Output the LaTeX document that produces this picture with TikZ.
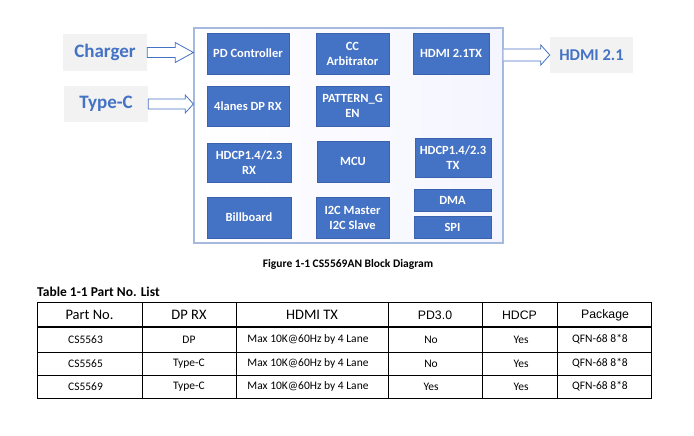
\documentclass[tikz,border=0pt]{standalone}
\usepackage{fontspec}
\setmainfont{Carlito}
\newfontfamily\arialfont{Liberation Sans}
\usetikzlibrary{positioning,calc}
\definecolor{blkblue}{HTML}{4472C4}
\definecolor{blkedge}{HTML}{3A62AE}
\definecolor{chipedge}{HTML}{A6B9DE}
\definecolor{lblgray}{HTML}{F2F2F2}
\tikzset{
  blk/.style={fill=blkblue, draw=blkedge, thin, text=white, font=\fontsize{12.5}{15}\selectfont\bfseries,
    align=center, inner sep=0pt},
  lbl/.style={fill=lblgray, text=blkblue, font=\fontsize{19}{21}\selectfont\bfseries, inner sep=0pt},
  barrow/.style={draw=blkblue, fill=white, line width=0.8pt, line join=miter},
  cell/.style={font=\fontsize{11.5}{13}\selectfont, inner sep=0pt},
  headcell/.style={font=\fontsize{14.5}{16}\selectfont, inner sep=0pt},
  arialcell/.style={font=\fontsize{12.3}{15}\selectfont\arialfont, inner sep=0pt}
}
\begin{document}
\begin{tikzpicture}[x=1pt, y=-1pt]
    \useasboundingbox (0,0) rectangle (694,436);

    % Chip outline
    \node[draw=chipedge, line width=1.2pt, left color=white, right color=blue!4, minimum width=309pt, minimum height=215pt, inner sep=0pt] (chip) at (348.5,135.5) {};

    % Inputs and output
    \node[lbl, minimum width=84pt, minimum height=37pt] (chg) at (105,52.5) {Charger};
    \node[lbl, minimum width=84pt, minimum height=36pt] (typc) at (106,104) {Type-C};
    \node[lbl, minimum width=83pt, minimum height=36pt, font=\fontsize{16.5}{20}\selectfont\bfseries] (hout) at (591.5,55) {HDMI 2.1};

    % Block arrows
    \draw[barrow] ($(chg.east)+(0,-5)$) -- ++(28,0) -- ++(0,-5) -- ($(chip.west |- chg.east)$) -- ($(chg.east)+(28,10)$) -- ++(0,-5) -- ($(chg.east)+(0,5)$) -- cycle;
    \draw[barrow] ($(typc.east)+(0,-5)$) -- ++(37,0) -- ++(0,-4) -- ($(chip.west |- typc.east)$) -- ($(typc.east)+(37,9)$) -- ++(0,-4) -- ($(typc.east)+(0,5)$) -- cycle;
    \draw[barrow] ($(chip.east |- hout.west)+(0,-6)$) -- ($(hout.west)+(-9,-6)$) -- ++(0,-4) -- (hout.west) -- ($(hout.west)+(-9,10)$) -- ++(0,-4) -- ($(chip.east |- hout.west)+(0,6)$);

    % Blocks
    \node[blk, minimum width=82pt, minimum height=41pt] (pd) at (248,53.5) {PD Controller};
    \node[blk, minimum width=73pt, minimum height=41pt] (cc) at (352.5,53.5) {CC\\Arbitrator};
    \node[blk, minimum width=76pt, minimum height=41pt] (htx) at (451,53.5) {HDMI 2.1TX};
    \node[blk, minimum width=82pt, minimum height=40pt] (dprx) at (248,106) {4lanes DP RX};
    \node[blk, minimum width=73pt, minimum height=40pt] (pat) at (352.5,106) {PATTERN\_G\\EN};
    \node[blk, minimum width=84pt, minimum height=39pt] (hrx) at (249,162.5) {HDCP1.4/2.3\\RX};
    \node[blk, minimum width=72pt, minimum height=41pt] (mcu) at (353,161.5) {MCU};
    \node[blk, minimum width=76pt, minimum height=39pt] (hctx) at (453,157.5) {HDCP1.4/2.3\\TX};
    \node[blk, minimum width=84pt, minimum height=41pt] (bill) at (249,217.5) {Billboard};
    \node[blk, minimum width=73pt, minimum height=41pt] (i2c) at (352.5,217.5) {I2C Master\\I2C Slave};
    \node[blk, minimum width=77pt, minimum height=22pt] (dma) at (452.5,200) {DMA};
    \node[blk, minimum width=77pt, minimum height=22pt] (spi) at (452.5,227) {SPI};

    % Captions
    \node[font=\fontsize{11.5}{13}\selectfont\bfseries, inner sep=0pt] (cap) at (348,264) {Figure 1-1 CS5569AN Block Diagram};
    \node[font=\fontsize{13.5}{15}\selectfont\bfseries, anchor=west, inner sep=0pt] (ttl) at (37,292) {Table 1-1 Part No. List};

    % Table grid
    \draw[line width=1pt] (37,302) rectangle (651,398);
    \foreach \x in {142,236,388,482,557} {
        \draw[line width=1pt] (\x,302) -- (\x,398);
    }
    \draw[line width=2pt] (37,327) -- (651,327);
    \foreach \y in {352,375} {
        \draw[line width=1pt] (37,\y) -- (651,\y);
    }

    % Table header
    \node[headcell] (h1) at (89.5,315) {Part No.};
    \node[headcell] (h2) at (189,315) {DP RX};
    \node[headcell] (h3) at (312,315) {HDMI TX};
    \node[arialcell] (h4) at (435,315) {PD3.0};
    \node[arialcell] (h5) at (519.5,315) {HDCP};
    \node[arialcell] (h6) at (605,315) {Package};

    % Table rows
    \foreach \i/\y/\part/\rx/\pd in {1/339.5/CS5563/DP/No, 2/363.5/CS5565/Type-C/No, 3/386.5/CS5569/Type-C/Yes} {
        \node[cell] (p\i) at (85.5,\y) {\part};
        \node[cell] (r\i) at (189,\y) {\rx};
        \node[cell] (t\i) at (308,\y) {Max 10K@60Hz by 4 Lane};
        \node[cell] (d\i) at (431,\y) {\pd};
        \node[cell] (c\i) at (521,\y) {Yes};
        \node[cell] (k\i) at (600,\y) {QFN-68 8*8};
    }
\end{tikzpicture}
\end{document}
